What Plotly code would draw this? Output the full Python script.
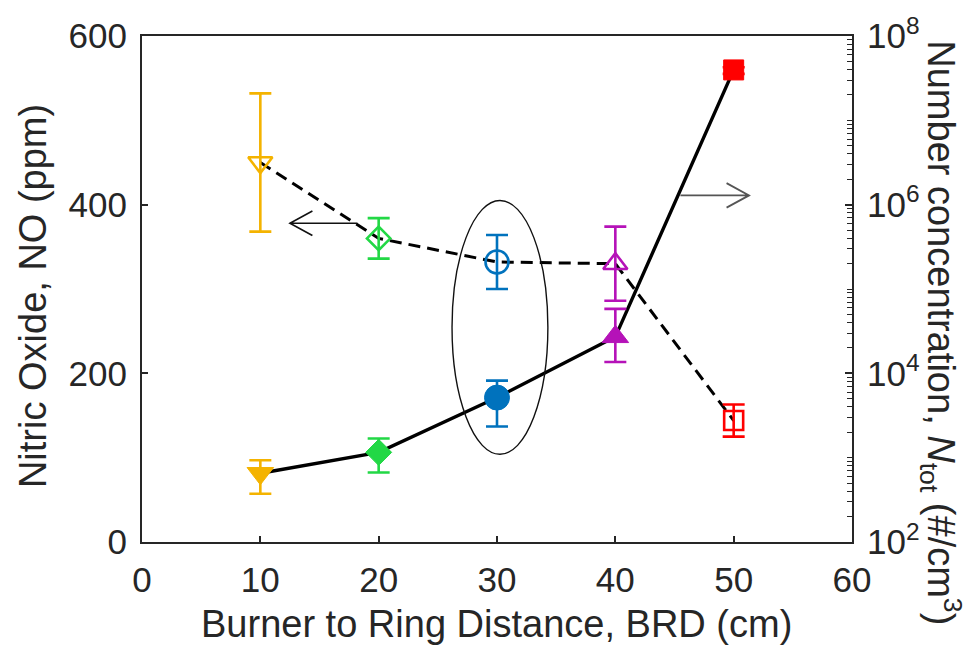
import plotly.graph_objects as go

# Burner to ring distance (cm)
brd = [10, 20, 30, 40, 50]

# Nitric oxide (ppm), left axis, with symmetric error
no_ppm = [450, 360, 332, 330, 144]
no_err = [82, 24, 32, 44, 19]

# Total number concentration (#/cm3), right (log) axis
n_tot = [653, 1156, 5160, 27100, 3.96e7]
n_err_plus = [280, 530, 3030, 31000, 3.0e6]
n_err_minus = [280, 490, 2820, 13500, 4.0e6]

point_colors = ["#F4B300", "#22D845", "#0072BD", "#B512B8", "#FF0000"]
open_symbols = ["triangle-down-open", "diamond-open", "circle-open", "triangle-up-open", "square-open"]
filled_symbols = ["triangle-down", "diamond", "circle", "triangle-up", "square"]
open_sizes = [21, 18, 23, 21, 19]
filled_sizes = [23, 20, 25, 23, 20]

# right-axis labelled decades
n_tick_vals = [1e2, 1e4, 1e6, 1e8]
n_tick_text = ["10<sup>2</sup>", "10<sup>4</sup>", "10<sup>6</sup>", "10<sup>8</sup>"]

AX = "#262626"
FONT = "Liberation Sans, Arial, sans-serif"

fig = go.Figure()

# connecting lines
fig.add_trace(go.Scatter(x=brd, y=no_ppm, mode="lines", yaxis="y",
                         line=dict(color="black", width=3, dash="12px,7px"),
                         showlegend=False, hoverinfo="skip"))
fig.add_trace(go.Scatter(x=brd, y=n_tot, mode="lines", yaxis="y2",
                         line=dict(color="black", width=3.4),
                         showlegend=False, hoverinfo="skip"))

for i in range(len(brd)):
    c = point_colors[i]
    # open markers: NO
    fig.add_trace(go.Scatter(
        x=[brd[i]], y=[no_ppm[i]], mode="markers", yaxis="y",
        marker=dict(symbol=open_symbols[i], size=open_sizes[i], color=c,
                    line=dict(color=c, width=2.6)),
        error_y=dict(type="data", array=[no_err[i]], color=c, thickness=2.6, width=11),
        showlegend=False))
    # filled markers: number concentration
    fig.add_trace(go.Scatter(
        x=[brd[i]], y=[n_tot[i]], mode="markers", yaxis="y2",
        marker=dict(symbol=filled_symbols[i], size=filled_sizes[i], color=c,
                    line=dict(color=c, width=1)),
        error_y=dict(type="data", symmetric=False, array=[n_err_plus[i]],
                     arrayminus=[n_err_minus[i]], color=c, thickness=2.6, width=11),
        showlegend=False))

# pointer arrows and the highlight ellipse (data coordinates of the left axis)
left_arrow = dict(tail=(18.2, 378), tip=(12.5, 378), barb_x=14.4, barb_dy=14.5)
right_arrow = dict(tail=(45.5, 411), tip=(51.3, 411), barb_x=49.4, barb_dy=14.5)
ellipse_box = dict(x0=26.2, x1=34.3, y0=104, y1=405)


def arrow_path(a):
    (tx, ty), (hx, hy) = a["tail"], a["tip"]
    bx, dy = a["barb_x"], a["barb_dy"]
    return (f"M {tx},{ty} L {hx},{hy} M {bx},{hy + dy} L {hx},{hy} L {bx},{hy - dy}")


shapes = [
    dict(type="path", xref="x", yref="y", path=arrow_path(left_arrow),
         line=dict(color="#111111", width=1.6)),
    dict(type="path", xref="x", yref="y", path=arrow_path(right_arrow),
         line=dict(color="#555555", width=1.8)),
    dict(type="circle", xref="x", yref="y", line=dict(color="#111111", width=1.4),
         **ellipse_box),
]

# unlabelled log ticks: odd decades plus the 2..9 sub-decade marks
minor_vals = [m * 10 ** e for e in range(2, 8) for m in range(1, 10)
              if not (m == 1 and e % 2 == 0)]

fig.update_layout(
    width=971, height=645,
    margin=dict(l=142, r=119, t=34, b=103),
    paper_bgcolor="white", plot_bgcolor="white",
    font=dict(family=FONT, color=AX, size=35),
    shapes=shapes,
    xaxis=dict(range=[0, 60], tickvals=[0, 10, 20, 30, 40, 50, 60],
               ticks="inside", ticklen=6, tickwidth=1.5, tickcolor=AX,
               showline=True, linecolor=AX, linewidth=2, mirror=True,
               showgrid=False, zeroline=False, ticklabelstandoff=6,
               tickfont=dict(size=35, family=FONT, color=AX)),
    yaxis=dict(range=[0, 600], tickvals=[0, 200, 400, 600],
               ticks="inside", ticklen=6, tickwidth=1.5, tickcolor=AX,
               showline=True, linecolor=AX, linewidth=2,
               showgrid=False, zeroline=False, ticklabelstandoff=6,
               tickfont=dict(size=35, family=FONT, color=AX)),
    yaxis2=dict(type="log", range=[2, 8], overlaying="y", side="right",
                tickvals=n_tick_vals, ticktext=n_tick_text,
                ticks="inside", ticklen=7, tickwidth=1.5, tickcolor=AX,
                minor=dict(tickvals=minor_vals, ticks="inside", ticklen=5,
                           tickcolor=AX, tickwidth=1.2, showgrid=False),
                showline=True, linecolor=AX, linewidth=2,
                showgrid=False, zeroline=False, ticklabelstandoff=6,
                tickfont=dict(size=35, family=FONT, color=AX)),
    annotations=[
        dict(text="Burner to Ring Distance, BRD (cm)", xref="paper", yref="paper",
             x=0.4986, y=-0.163, xanchor="center", yanchor="middle", showarrow=False,
             font=dict(size=38, family=FONT, color=AX)),
        dict(text="Nitric Oxide, NO (ppm)", xref="paper", yref="paper",
             x=-0.1535, y=0.486, xanchor="center", yanchor="middle", showarrow=False,
             textangle=-90, font=dict(size=38, family=FONT, color=AX)),
        dict(text="Number concentration, <i>N</i><sub>tot</sub> (#/cm<sup>3</sup>)",
             xref="paper", yref="paper", x=1.125, y=0.413,
             xanchor="center", yanchor="middle", showarrow=False,
             textangle=90, font=dict(size=38, family=FONT, color=AX)),
    ],
)

fig.write_html("out.html")
